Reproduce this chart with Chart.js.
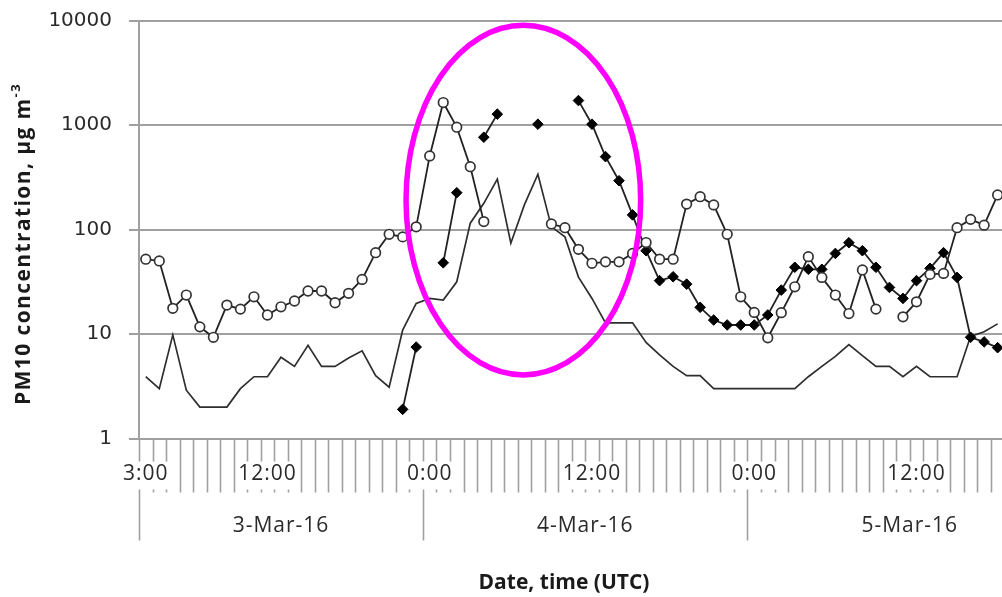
<!DOCTYPE html>
<html>
<head>
<meta charset="utf-8">
<script src="https://cdn.jsdelivr.net/npm/chart.js@4/dist/chart.umd.min.js"></script>
<style>
  html, body { margin: 0; padding: 0; background: #fff; overflow: hidden; }
  #wrap { width: 1080px; height: 597px; }
</style>
</head>
<body>
<div id="wrap"><canvas id="pm10" width="1080" height="597"></canvas></div>
<script>
// Hourly categories: 3:00 on 3-Mar-16 through 23:00 on 5-Mar-16
const firstHour = 3;
const hourCount = 69;
const categories = [];
for (let h = 0; h < hourCount; h++) {
  const t = h + firstHour;
  categories.push((3 + Math.floor(t / 24)) + '-Mar-16 ' + (t % 24) + ':00');
}

// Time tick labels (category index, text) and day groups
const timeTickIndex = [0, 9, 21, 33, 45, 57];
const timeTickText  = ['3:00', '12:00', '0:00', '12:00', '0:00', '12:00'];
const dayLabels     = ['3-Mar-16', '4-Mar-16', '5-Mar-16'];
const dayStartIndex = [0, 21, 45];

// PM10 series, µg m-3 (null = no measurement)
const pmCircles = [
  52, 50, 17.6, 23.6, 11.7, 9.3, 18.9, 17.3, 22.7, 15.2,
  18.2, 20.7, 25.8, 25.8, 19.9, 24.5, 33.3, 60, 90, 85,
  106, 506, 1640, 953, 399, 119, null, null, null, null,
  113, 104, 64.6, 47.5, 49, 49, 59, 75, 52, 52,
  175, 206, 172, 90, 22.7, 16.1, 9.2, 16, 28.3, 55,
  34.8, 23.6, 15.7, 41, 17.3, null, 14.6, 20.3, 37.2, 38,
  104, 125, 110, 214
];
const pmDiamonds = [
  null, null, null, null, null, null, null, null, null, null,
  null, null, null, null, null, null, null, null, null, 1.9,
  7.5, null, 48, 225, null, 764, 1270, null, null, 1018,
  null, null, 1713, 1018, 498, 293, 138, 62.7, 32.4, 35.3,
  30, 18, 13.6, 12.2, 12.2, 12.2, 15.2, 26.3, 43.5, 41.6,
  41.6, 59, 74.8, 62.7, 43.5, 27.9, 21.9, 32.4, 42.5, 60,
  34.8, 9.3, 8.4, 7.4
];
const pmLine = [
  3.9, 3.0, 9.8, 2.9, 2.0, 2.0, 2.0, 3.0, 3.9, 3.9,
  6.0, 4.9, 7.8, 4.9, 4.9, 5.9, 6.9, 4.0, 3.1, 10.9,
  19.6, 21.9, 21.1, 31.6, 115, 178, 303, 74, 172, 338,
  106, 85, 35, 21.9, 12.8, 12.8, 12.8, 8.3, 6.3, 4.9,
  4.0, 4.0, 3.0, 3.0, 3.0, 3.0, 3.0, 3.0, 3.0, 3.9,
  4.9, 6.1, 7.9, 6.2, 4.9, 4.9, 3.9, 4.9, 3.9, 3.9,
  3.9, 9.5, 10.5, 12.5
];
const yTickValues = [1, 10, 100, 1000, 10000];

// Highlight ellipse bounds (category index / concentration)
const ringFromIndex = 19.25, ringToIndex = 36.6;
const ringTop = 9000, ringBottom = 4.05;

const GRID = '#a0a0a0';
const INK = '#2a2a2a';

const axisDecor = {
  id: 'axisDecor',
  afterDraw(chart) {
    const { ctx, chartArea } = chart;
    const x = chart.scales.x, y = chart.scales.y;
    const half = (x.getPixelForValue(1) - x.getPixelForValue(0)) / 2;
    const base = chartArea.bottom;
    ctx.save();

    // hour tick marks, longer at day boundaries
    ctx.strokeStyle = GRID;
    ctx.lineWidth = 1.6;
    for (let i = 0; i <= categories.length; i++) {
      const px = Math.round(x.getPixelForValue(i) - half) + 0.5;
      const isDay = dayStartIndex.includes(i) || i === categories.length;
      ctx.beginPath();
      ctx.moveTo(px, base);
      ctx.lineTo(px, base + (isDay ? 102 : 54));
      ctx.stroke();
    }

    // time labels on white backdrops
    ctx.font = '21px "Open Sans"';
    ctx.letterSpacing = '1px';
    ctx.textAlign = 'center';
    ctx.textBaseline = 'middle';
    timeTickIndex.forEach((idx, k) => {
      const px = x.getPixelForValue(idx);
      const w = ctx.measureText(timeTickText[k]).width;
      ctx.fillStyle = '#fff';
      ctx.fillRect(px - w / 2 - 2, base + 23, w + 4, 28);
      ctx.fillStyle = INK;
      ctx.fillText(timeTickText[k], px, base + 36);
    });

    // day labels centred in each day span
    dayLabels.forEach((txt, k) => {
      const a = x.getPixelForValue(dayStartIndex[k]) - half;
      const endIdx = k + 1 < dayStartIndex.length ? dayStartIndex[k + 1] : categories.length;
      const b = x.getPixelForValue(endIdx) - half;
      ctx.fillStyle = INK;
      ctx.fillText(txt, (a + b) / 2, base + 88);
    });

    // x axis title
    ctx.font = 'bold 21px "Open Sans"';
    ctx.letterSpacing = '0px';
    ctx.fillStyle = '#1a1a1a';
    ctx.fillText('Date, time (UTC)', 564, 583);

    // y axis title with superscript
    ctx.translate(24, 244);
    ctx.rotate(-Math.PI / 2);
    ctx.textAlign = 'left';
    ctx.letterSpacing = '1.4px';
    const mainTxt = 'PM10 concentration, µg m';
    const supTxt = '-3';
    ctx.font = 'bold 21px "Open Sans"';
    const wMain = ctx.measureText(mainTxt).width;
    ctx.font = 'bold 13px "Open Sans"';
    const wSup = ctx.measureText(supTxt).width;
    const start = -(wMain + wSup) / 2;
    ctx.font = 'bold 21px "Open Sans"';
    ctx.fillText(mainTxt, start, 0);
    ctx.font = 'bold 13px "Open Sans"';
    ctx.fillText(supTxt, start + wMain, -8);
    ctx.setTransform(1, 0, 0, 1, 0, 0);

    // highlight ring
    const left = x.getPixelForValue(ringFromIndex);
    const right = x.getPixelForValue(ringToIndex);
    const top = y.getPixelForValue(ringTop);
    const bottom = y.getPixelForValue(ringBottom);
    ctx.strokeStyle = '#ff00ff';
    ctx.lineWidth = 5.5;
    ctx.beginPath();
    ctx.ellipse((left + right) / 2, (top + bottom) / 2, (right - left) / 2, (bottom - top) / 2, 0, 0, Math.PI * 2);
    ctx.stroke();
    ctx.restore();
  }
};

new Chart(document.getElementById('pm10'), {
  type: 'line',
  data: {
    labels: categories,
    datasets: [
      {
        data: pmCircles,
        borderColor: '#222', borderWidth: 1.8,
        pointStyle: 'circle', pointRadius: 4.8,
        pointBackgroundColor: '#fff', pointBorderColor: '#333', pointBorderWidth: 1.7,
        tension: 0, order: 1
      },
      {
        data: pmDiamonds,
        borderColor: '#222', borderWidth: 1.8,
        pointStyle: 'rectRot', pointRadius: 5.3,
        pointBackgroundColor: '#000', pointBorderColor: '#000', pointBorderWidth: 1,
        tension: 0, order: 2
      },
      {
        data: pmLine,
        borderColor: '#2e2e2e', borderWidth: 1.7,
        pointRadius: 0,
        tension: 0, order: 3
      }
    ]
  },
  options: {
    responsive: false,
    animation: false,
    devicePixelRatio: 1,
    layout: { padding: { top: 20.5, left: 0, right: 8, bottom: 0 } },
    plugins: { legend: { display: false }, tooltip: { enabled: false } },
    scales: {
      x: {
        type: 'category',
        offset: true,
        grid: { display: false },
        border: { display: false },
        ticks: { display: false },
        afterFit(s) { s.height = 158.5; s.paddingLeft = 0; s.paddingRight = 0; }
      },
      y: {
        type: 'logarithmic',
        min: 1, max: 10000,
        afterBuildTicks(s) { s.ticks = yTickValues.map(v => ({ value: v })); },
        afterFit(s) { s.width = 139; s.paddingTop = 0; s.paddingBottom = 0; },
        grid: { color: GRID, lineWidth: 2, tickLength: 10, drawTicks: true },
        border: { display: true, color: GRID, width: 2 },
        ticks: {
          autoSkip: false,
          padding: 17,
          color: INK,
          font: { family: '"DejaVu Sans"', size: 20 },
          callback: v => String(v)
        }
      }
    }
  },
  plugins: [axisDecor]
});
</script>
</body>
</html>
